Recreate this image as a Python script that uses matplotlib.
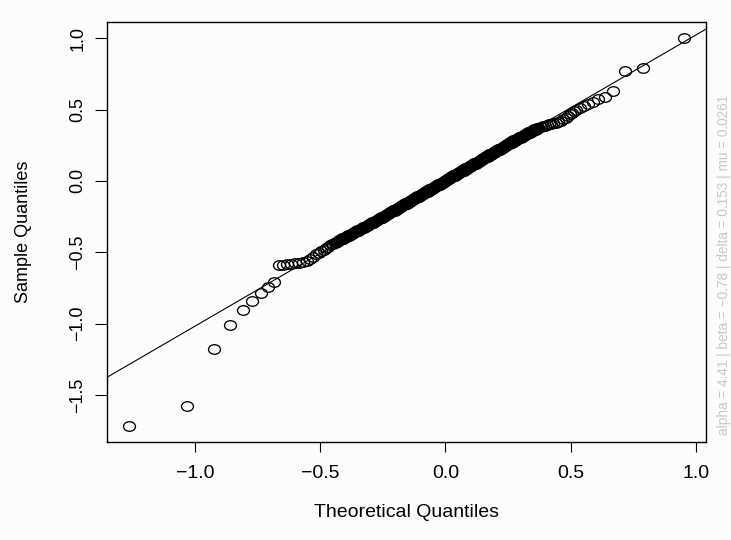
import matplotlib
matplotlib.use("Agg")
import matplotlib.pyplot as plt
from matplotlib.path import Path
from matplotlib.transforms import Affine2D

plt.rcParams["font.family"] = ["Liberation Sans", "DejaVu Sans"]

# ── data (theoretical vs sample quantiles) ──
lower_x = [-1.262, -1.031, -0.925, -0.858, -0.808, -0.770, -0.737, -0.709, -0.686,
           -0.666, -0.650, -0.634, -0.618, -0.601, -0.584, -0.568, -0.554, -0.541,
           -0.528, -0.516, -0.505, -0.495, -0.486, -0.477, -0.469, -0.461, -0.454, -0.447]
lower_y = [-1.718, -1.579, -1.176, -1.010, -0.905, -0.840, -0.788, -0.746, -0.707,
           -0.592, -0.588, -0.585, -0.581, -0.577, -0.572, -0.567, -0.560, -0.550,
           -0.530, -0.515, -0.503, -0.492, -0.481, -0.470, -0.460, -0.452, -0.445, -0.439]

# dense band, first pass of readings
mid_x = [-0.440, -0.434, -0.428, -0.422, -0.416, -0.410, -0.404, -0.398, -0.392, -0.386,
         -0.380, -0.374, -0.368, -0.362, -0.356, -0.350, -0.344, -0.338, -0.332, -0.326,
         -0.320, -0.314, -0.308, -0.302, -0.296, -0.290, -0.284, -0.278, -0.272, -0.266,
         -0.260, -0.254, -0.248, -0.242, -0.236, -0.230, -0.224, -0.218, -0.212, -0.206,
         -0.200, -0.194, -0.188, -0.182, -0.176, -0.170, -0.164, -0.158, -0.152, -0.146,
         -0.140, -0.134, -0.128, -0.122, -0.116, -0.110, -0.104, -0.098, -0.092, -0.086,
         -0.080, -0.074, -0.068, -0.062, -0.056, -0.050, -0.044, -0.038, -0.032, -0.026,
         -0.020, -0.014, -0.008, -0.002, 0.004, 0.010, 0.016, 0.022, 0.028, 0.034,
         0.040, 0.046, 0.052, 0.058, 0.064, 0.070, 0.076, 0.082, 0.088, 0.094,
         0.100, 0.106, 0.112, 0.118, 0.124, 0.130, 0.136, 0.142, 0.148, 0.154,
         0.160, 0.166, 0.172, 0.178, 0.184, 0.190, 0.196, 0.202, 0.208, 0.214,
         0.220, 0.226, 0.232, 0.238, 0.244, 0.250, 0.256, 0.262, 0.268, 0.274,
         0.280, 0.286, 0.292, 0.298, 0.304, 0.310, 0.316, 0.322, 0.328, 0.334,
         0.340, 0.346, 0.352, 0.358, 0.364, 0.370]
mid_y = [-0.433, -0.428, -0.422, -0.416, -0.410, -0.404, -0.399, -0.393, -0.388, -0.382,
         -0.377, -0.370, -0.365, -0.359, -0.354, -0.348, -0.343, -0.337, -0.332, -0.326,
         -0.320, -0.314, -0.309, -0.303, -0.298, -0.292, -0.287, -0.282, -0.276, -0.269,
         -0.262, -0.257, -0.253, -0.246, -0.239, -0.232, -0.226, -0.221, -0.214, -0.207,
         -0.202, -0.197, -0.190, -0.183, -0.178, -0.172, -0.165, -0.159, -0.152, -0.147,
         -0.142, -0.135, -0.129, -0.121, -0.116, -0.111, -0.104, -0.098, -0.091, -0.086,
         -0.081, -0.074, -0.067, -0.060, -0.055, -0.050, -0.043, -0.037, -0.030, -0.025,
         -0.019, -0.012, -0.006, 0.001, 0.006, 0.011, 0.018, 0.024, 0.032, 0.037,
         0.042, 0.049, 0.055, 0.062, 0.067, 0.072, 0.080, 0.086, 0.093, 0.098,
         0.103, 0.110, 0.116, 0.123, 0.128, 0.134, 0.141, 0.147, 0.154, 0.159,
         0.164, 0.171, 0.177, 0.185, 0.190, 0.195, 0.202, 0.208, 0.215, 0.220,
         0.225, 0.233, 0.239, 0.246, 0.251, 0.256, 0.263, 0.269, 0.276, 0.282,
         0.287, 0.293, 0.298, 0.304, 0.309, 0.315, 0.320, 0.326, 0.332, 0.338,
         0.343, 0.349, 0.354, 0.360, 0.366, 0.371]

# dense band, second pass (points sitting between the first ones)
mid2_x = [-0.437, -0.431, -0.425, -0.419, -0.413, -0.407, -0.401, -0.395, -0.389, -0.383,
          -0.377, -0.371, -0.365, -0.359, -0.353, -0.347, -0.341, -0.335, -0.329, -0.323,
          -0.317, -0.311, -0.305, -0.299, -0.293, -0.287, -0.281, -0.275, -0.269, -0.263,
          -0.257, -0.251, -0.245, -0.239, -0.233, -0.227, -0.221, -0.215, -0.209, -0.203,
          -0.197, -0.191, -0.185, -0.179, -0.173, -0.167, -0.161, -0.155, -0.149, -0.143,
          -0.137, -0.131, -0.125, -0.119, -0.113, -0.107, -0.101, -0.095, -0.089, -0.083,
          -0.077, -0.071, -0.065, -0.059, -0.053, -0.047, -0.041, -0.035, -0.029, -0.023,
          -0.017, -0.011, -0.005, 0.001, 0.007, 0.013, 0.019, 0.025, 0.031, 0.037,
          0.043, 0.049, 0.055, 0.061, 0.067, 0.073, 0.079, 0.085, 0.091, 0.097,
          0.103, 0.109, 0.115, 0.121, 0.127, 0.133, 0.139, 0.145, 0.151, 0.157,
          0.163, 0.169, 0.175, 0.181, 0.187, 0.193, 0.199, 0.205, 0.211, 0.217,
          0.223, 0.229, 0.235, 0.241, 0.247, 0.253, 0.259, 0.265, 0.271, 0.277,
          0.283, 0.289, 0.295, 0.301, 0.307, 0.313, 0.319, 0.325, 0.331, 0.337,
          0.343, 0.349, 0.355, 0.361, 0.367]
mid2_y = [-0.426, -0.429, -0.415, -0.417, -0.403, -0.405, -0.392, -0.394, -0.381, -0.383,
          -0.370, -0.371, -0.358, -0.360, -0.347, -0.349, -0.336, -0.338, -0.325, -0.327,
          -0.313, -0.315, -0.302, -0.304, -0.291, -0.293, -0.280, -0.283, -0.268, -0.270,
          -0.255, -0.259, -0.245, -0.247, -0.232, -0.233, -0.219, -0.221, -0.207, -0.208,
          -0.195, -0.197, -0.183, -0.184, -0.171, -0.172, -0.158, -0.160, -0.145, -0.148,
          -0.134, -0.136, -0.121, -0.123, -0.109, -0.111, -0.097, -0.099, -0.084, -0.087,
          -0.073, -0.075, -0.060, -0.062, -0.048, -0.050, -0.036, -0.038, -0.023, -0.026,
          -0.012, -0.013, 0.001, -0.001, 0.013, 0.011, 0.025, 0.024, 0.038, 0.036,
          0.049, 0.048, 0.062, 0.060, 0.074, 0.072, 0.087, 0.085, 0.099, 0.097,
          0.110, 0.109, 0.123, 0.121, 0.135, 0.133, 0.148, 0.146, 0.160, 0.158,
          0.171, 0.170, 0.185, 0.183, 0.197, 0.194, 0.209, 0.207, 0.221, 0.219,
          0.233, 0.232, 0.246, 0.244, 0.258, 0.255, 0.270, 0.268, 0.283, 0.281,
          0.294, 0.292, 0.305, 0.303, 0.316, 0.314, 0.327, 0.325, 0.339, 0.337,
          0.350, 0.348, 0.361, 0.359, 0.373]

upper_x = [0.380, 0.388, 0.396, 0.404, 0.412, 0.421, 0.430, 0.440, 0.450, 0.460,
           0.470, 0.480, 0.490, 0.499, 0.507, 0.515, 0.523, 0.536, 0.552, 0.569,
           0.589, 0.611, 0.637, 0.669, 0.719, 0.790, 0.953]
upper_y = [0.378, 0.383, 0.388, 0.392, 0.396, 0.400, 0.403, 0.408, 0.414, 0.422,
           0.431, 0.442, 0.454, 0.466, 0.477, 0.487, 0.498, 0.513, 0.527, 0.541,
           0.556, 0.572, 0.590, 0.627, 0.771, 0.788, 1.002]

theo = lower_x + mid_x + mid2_x + upper_x
samp = lower_y + mid_y + mid2_y + upper_y

# qqline fitted through the quartiles
line_intercept = 0.002
line_slope = 1.02

x_ticks = [-1.0, -0.5, 0.0, 0.5, 1.0]
y_ticks = [-1.5, -1.0, -0.5, 0.0, 0.5, 1.0]
param_note = "alpha = 4.41 | beta = \u22120.78 | delta = 0.153 | mu = 0.0261"

# the source image is a bit wider than tall -> slightly flattened circles
circle = Path.unit_circle()
oval = Path(Affine2D().scale(1.0, 0.8).transform(circle.vertices), circle.codes)

# ── figure ──
fig = plt.figure(figsize=(7.31, 5.40), dpi=100, facecolor="#fcfcfc")
ax = fig.add_axes([0.1464, 0.182, 0.8198, 0.7767])
ax.set_facecolor("#fcfcfc")

ax.plot(theo, samp, linestyle="none", marker=oval, markersize=8.6,
        markerfacecolor="none", markeredgecolor="black", markeredgewidth=0.95)
ax.axline((0, line_intercept), slope=line_slope, color="black", lw=0.8)

# R style 4% padding
xr = max(theo) - min(theo)
yr = max(samp) - min(samp)
ax.set_xlim(min(theo) - 0.04 * xr, max(theo) + 0.04 * xr)
ax.set_ylim(min(samp) - 0.04 * yr, max(samp) + 0.04 * yr)

ax.set_xticks(x_ticks)
ax.set_xticklabels([f"{t:.1f}".replace("-", "\u2212") for t in x_ticks])
ax.set_yticks(y_ticks)
ax.set_yticklabels([f"{t:.1f}".replace("-", "\u2212") for t in y_ticks],
                   rotation=90, va="center")
ax.tick_params(axis="x", length=7.5, width=0.8, labelsize=14, pad=9)
ax.tick_params(axis="y", length=9, width=0.8, labelsize=13, pad=6)

for s in ax.spines.values():
    s.set_linewidth(1.0)

ax.set_xlabel("Theoretical Quantiles", fontsize=14, labelpad=16)
ax.set_ylabel("Sample Quantiles", fontsize=13, labelpad=27)

fig.text(0.990, 0.195, param_note, rotation=90, ha="center", va="bottom",
         fontsize=9.8, color="#c8c8c8")

fig.savefig("out.png", dpi=100, facecolor=fig.get_facecolor())
